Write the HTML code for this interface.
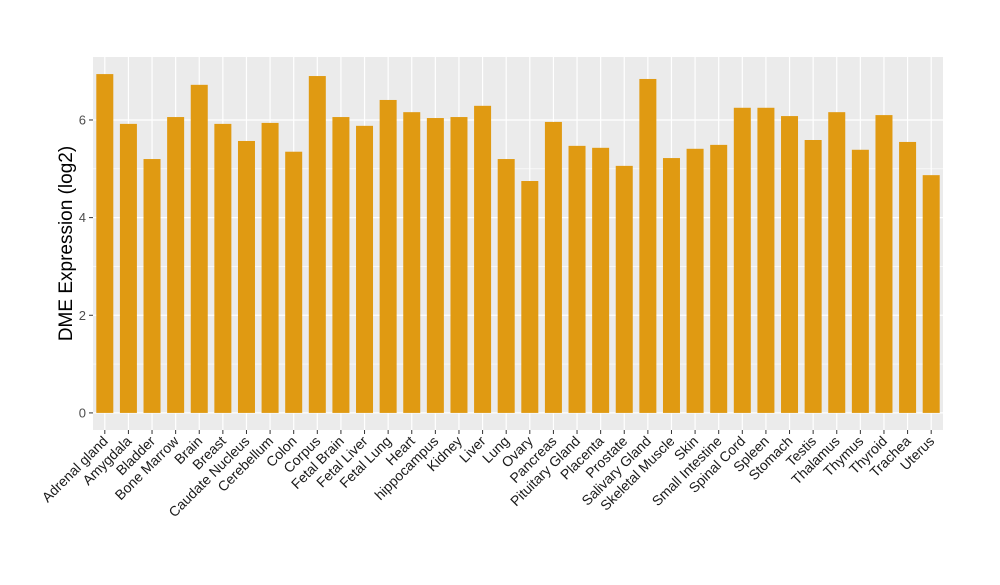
<!DOCTYPE html>
<html><head><meta charset="utf-8"><style>
body{margin:0;background:#fff;}
svg text{font-family:"Liberation Sans",sans-serif;}
</style></head><body>
<svg id="chart" width="1000" height="580"></svg>
<script>
const categories=["Adrenal gland","Amygdala","Bladder","Bone Marrow","Brain","Breast","Caudate Nucleus","Cerebellum","Colon","Corpus","Fetal Brain","Fetal Liver","Fetal Lung","Heart","hippocampus","Kidney","Liver","Lung","Ovary","Pancreas","Pituitary Gland","Placenta","Prostate","Salivary Gland","Skeletal Muscle","Skin","Small Intestine","Spinal Cord","Spleen","Stomach","Testis","Thalamus","Thymus","Thyroid","Trachea","Uterus"];
const values=[6.94,5.92,5.20,6.06,6.72,5.92,5.57,5.94,5.35,6.90,6.06,5.88,6.41,6.16,6.04,6.06,6.29,5.20,4.75,5.96,5.47,5.43,5.06,6.84,5.22,5.41,5.49,6.25,6.25,6.08,5.59,6.16,5.39,6.10,5.55,4.87];
const yTicks=[0,2,4,6];
const NS="http://www.w3.org/2000/svg";
const svg=document.getElementById('chart');
const L=93,R=943,T=57,B=430,yMin=-0.35,yMax=7.29;
const y=v=>B-(v-yMin)/(yMax-yMin)*(B-T);
const band=(R-L)/categories.length;
const x=i=>L+band*(i+0.5);
function mk(t,a){const e=document.createElementNS(NS,t);for(const k in a)e.setAttribute(k,a[k]);svg.appendChild(e);return e;}
const panel=mk('rect',{x:L,y:T,width:R-L,height:B-T,fill:'#ebebeb'});


for(let i=0;i<yTicks.length-1;i++){const v=(yTicks[i]+yTicks[i+1])/2;mk('line',{x1:L,x2:R,y1:y(v),y2:y(v),stroke:'#fff','stroke-width':0.6});}
yTicks.forEach(v=>{
 const g=mk('line',{x1:L,x2:R,y1:y(v),y2:y(v),stroke:'#fff','stroke-width':1.2});
 
 
 mk('line',{x1:L-4,x2:L,y1:y(v),y2:y(v),stroke:'#333'});
 const t=mk('text',{x:L-7,y:y(v)+4.5,'text-anchor':'end','font-size':13,fill:'#4d4d4d'});t.textContent=v;
 
 
});
categories.forEach((c,i)=>{
 mk('line',{x1:x(i),x2:x(i),y1:T,y2:B,stroke:'#fff','stroke-width':1.2});
});
categories.forEach((c,i)=>{
 const bw=band*0.72;
 const b=mk('rect',{x:x(i)-bw/2,y:y(values[i]),width:bw,height:y(0)-y(values[i]),fill:'#e09a12'});
 
 
 mk('line',{x1:x(i),x2:x(i),y1:B,y2:B+4,stroke:'#333'});
 const t=mk('text',{x:x(i)+4,y:B+12,'text-anchor':'end','font-size':14,fill:'#1a1a1a',transform:`rotate(-45 ${x(i)+4} ${B+12})`});
 t.textContent=c;
 
 
});
const yt=mk('text',{x:72,y:(T+B)/2,'text-anchor':'middle','font-size':19,fill:'#000',transform:`rotate(-90 72 ${(T+B)/2})`});
yt.textContent='DME Expression (log2)';


</script>
</body></html>
